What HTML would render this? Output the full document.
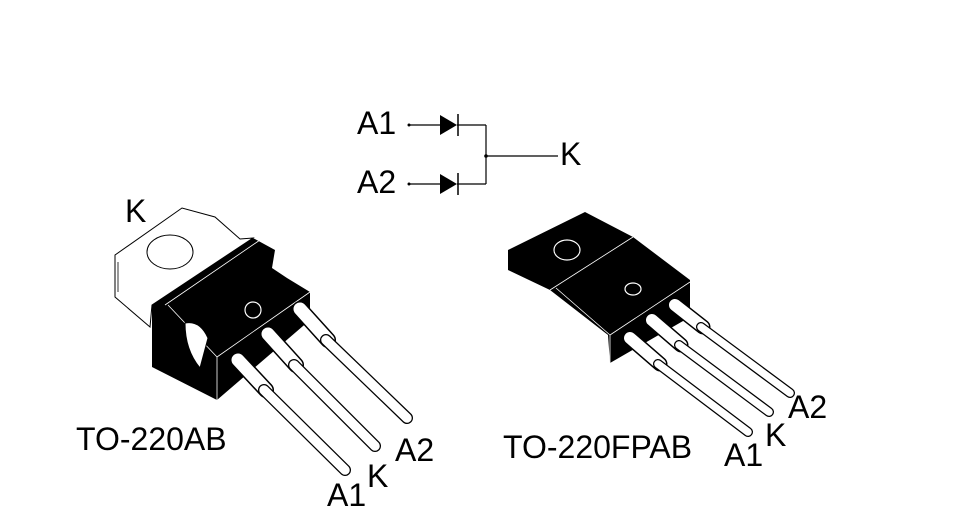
<!DOCTYPE html>
<html><head><style>
html,body{margin:0;padding:0;background:#fff;}
svg{display:block;}
text{font-family:"Liberation Sans",Arial,sans-serif;fill:#000;}
</style></head><body>
<svg width="979" height="530" viewBox="0 0 979 530" xmlns="http://www.w3.org/2000/svg">
<!-- schematic -->
<g stroke="#000" stroke-width="1.2" fill="none">
<line x1="409" y1="125" x2="440" y2="125"/>
<line x1="457" y1="125" x2="486" y2="125"/>
<line x1="409" y1="184" x2="440" y2="184"/>
<line x1="457" y1="184" x2="486" y2="184"/>
<line x1="486" y1="125" x2="486" y2="184"/>
<line x1="486" y1="156" x2="558" y2="156"/>
<line x1="458" y1="114" x2="458" y2="136" stroke-width="1.5"/>
<line x1="458" y1="173" x2="458" y2="195" stroke-width="1.5"/>
</g>
<polygon points="440,115 457,125 440,135" fill="#000"/>
<polygon points="440,174 457,184 440,194" fill="#000"/>
<circle cx="409" cy="125" r="1.5"/><circle cx="409" cy="184" r="1.5"/><circle cx="486" cy="156" r="1.8"/>
<g font-size="32">
<text x="357" y="134">A1</text>
<text x="357" y="193">A2</text>
<text x="560" y="165">K</text>
</g>

<!-- TO-220AB -->
<polygon points="115,255 182,208 215,217 240,239 253,238 152,305 150,327 115,297" fill="#fff" stroke="#000" stroke-width="1"/>
<line x1="118" y1="262" x2="118" y2="292" stroke="#000" stroke-width="0.8"/>
<ellipse cx="170" cy="252" rx="23" ry="17" fill="#fff" stroke="#000" stroke-width="1"/>
<polygon points="152,305 253,238 275,250 272,268 287,278 310,292 310,320 217,400 152,367" fill="#000"/>
<line x1="165" y1="305" x2="260" y2="240" stroke="#fff" stroke-width="0.8"/>
<line x1="168" y1="305" x2="217" y2="357" stroke="#fff" stroke-width="0.8"/>
<line x1="217" y1="357" x2="310" y2="292" stroke="#fff" stroke-width="0.8"/>
<line x1="217" y1="357" x2="217" y2="400" stroke="#fff" stroke-width="0.8"/>
<path d="M185,323 Q200,320 208,338 L200,368 Q185,350 185,323 Z" fill="#fff" stroke="#000"/>
<circle cx="253" cy="310" r="8" fill="none" stroke="#fff" stroke-width="1.2"/>
<g stroke-linecap="round">
<g stroke="#000" stroke-width="16"><polyline points="238,360 266,390" /><polyline points="268,334 296,365"/><polyline points="300,309 328,340"/></g>
<g stroke="#fff" stroke-width="13"><polyline points="238,360 266,390" /><polyline points="268,334 296,365"/><polyline points="300,309 328,340"/></g>
<g stroke="#000" stroke-width="12"><polyline points="264,390 345,470"/><polyline points="294,365 375,446"/><polyline points="326,340 407,418"/></g>
<g stroke="#fff" stroke-width="9.5"><polyline points="264,390 345,470"/><polyline points="294,365 375,446"/><polyline points="326,340 407,418"/></g>
</g>
<g font-size="32">
<text x="125" y="222">K</text>
<text x="76" y="450">TO-220AB</text>
<text x="327" y="506">A1</text>
<text x="367" y="487">K</text>
<text x="395" y="461">A2</text>
</g>

<!-- TO-220FPAB -->
<polygon points="508,250 585,212 633,237 690,280 690,317 610,363 608,335 550,290 508,270" fill="#000"/>
<line x1="550" y1="290" x2="633" y2="237" stroke="#fff" stroke-width="0.8"/>
<line x1="556" y1="288" x2="610" y2="335" stroke="#fff" stroke-width="0.8"/>
<line x1="610" y1="335" x2="690" y2="282" stroke="#fff" stroke-width="0.8"/>
<line x1="610" y1="335" x2="610" y2="363" stroke="#fff" stroke-width="0.8"/>
<ellipse cx="567" cy="250" rx="13" ry="10" fill="none" stroke="#fff" stroke-width="1.2"/>
<ellipse cx="633" cy="289" rx="8" ry="6" fill="none" stroke="#fff" stroke-width="1.2"/>
<g stroke-linecap="round">
<g stroke="#000" stroke-width="15"><polyline points="630,338 660,364"/><polyline points="652,320 681,345"/><polyline points="675,305 703,327"/></g>
<g stroke="#fff" stroke-width="12"><polyline points="630,338 660,364"/><polyline points="652,320 681,345"/><polyline points="675,305 703,327"/></g>
<g stroke="#000" stroke-width="10"><polyline points="658,364 748,432"/><polyline points="679,345 769,412"/><polyline points="701,327 790,393"/></g>
<g stroke="#fff" stroke-width="7.5"><polyline points="658,364 748,432"/><polyline points="679,345 769,412"/><polyline points="701,327 790,393"/></g>
</g>
<g font-size="32">
<text x="503" y="458">TO-220FPAB</text>
<text x="724" y="466">A1</text>
<text x="765" y="446">K</text>
<text x="788" y="418">A2</text>
</g>
</svg>
</body></html>
